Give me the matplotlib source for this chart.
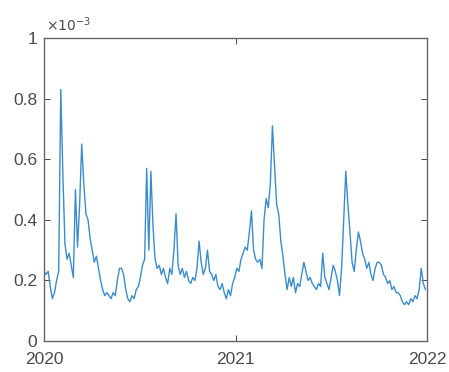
import matplotlib
matplotlib.use("Agg")
import matplotlib.pyplot as plt
import pandas as pd

# sampled every 4 days, values in units of 1e-3
start_date = "2020-01-01"
step = "4D"
values_e3 = [
    0.23, 0.22, 0.23, 0.18, 0.14, 0.16, 0.20, 0.23, 0.83, 0.55,
    0.32, 0.27, 0.29, 0.25, 0.21, 0.50, 0.31, 0.45, 0.65, 0.52,
    0.42, 0.40, 0.34, 0.30, 0.26, 0.28, 0.24, 0.20, 0.17, 0.15,
    0.16, 0.15, 0.14, 0.16, 0.15, 0.20, 0.24, 0.24, 0.22, 0.17,
    0.14, 0.13, 0.15, 0.14, 0.17, 0.18, 0.21, 0.25, 0.27, 0.57,
    0.30, 0.56, 0.38, 0.27, 0.24, 0.25, 0.22, 0.24, 0.21, 0.19,
    0.24, 0.22, 0.30, 0.42, 0.25, 0.22, 0.24, 0.21, 0.23, 0.20,
    0.19, 0.21, 0.20, 0.24, 0.33, 0.26, 0.22, 0.24, 0.30, 0.23,
    0.22, 0.20, 0.22, 0.18, 0.17, 0.19, 0.16, 0.14, 0.17, 0.15,
    0.19, 0.21, 0.24, 0.23, 0.27, 0.29, 0.31, 0.30, 0.36, 0.43,
    0.30, 0.27, 0.26, 0.27, 0.24, 0.40, 0.47, 0.44, 0.52, 0.71,
    0.58, 0.45, 0.42, 0.33, 0.28, 0.22, 0.17, 0.21, 0.18, 0.21,
    0.16, 0.19, 0.18, 0.22, 0.26, 0.23, 0.20, 0.21, 0.19, 0.18,
    0.17, 0.19, 0.18, 0.29, 0.21, 0.19, 0.17, 0.21, 0.25, 0.23,
    0.20, 0.15, 0.24, 0.40, 0.56, 0.45, 0.36, 0.26, 0.23, 0.30,
    0.36, 0.33, 0.29, 0.27, 0.24, 0.26, 0.22, 0.20, 0.24, 0.26,
    0.26, 0.25, 0.22, 0.21, 0.19, 0.20, 0.17, 0.18, 0.16, 0.16,
    0.15, 0.13, 0.12, 0.13, 0.12, 0.14, 0.13, 0.15, 0.14, 0.17,
    0.24, 0.19, 0.17,
]
y_ticks = [0, 0.2, 0.4, 0.6, 0.8, 1]
y_tick_labels = ["0", "0.2", "0.4", "0.6", "0.8", "1"]
x_tick_years = ["2020", "2021", "2022"]

dates = pd.date_range(start_date, periods=len(values_e3), freq=step)

plt.rcParams["font.family"] = ["Liberation Sans", "DejaVu Sans"]
grey = "#4a4a4a"

fig = plt.figure(figsize=(4.49, 3.72), dpi=100)
ax = fig.add_axes([0.098, 0.083, 0.853, 0.815])
ax.plot(dates, values_e3, color="#3a8ccc", linewidth=1.0)

ax.set_xlim(pd.Timestamp("2020-01-01"), pd.Timestamp("2022-01-01"))
ax.set_ylim(0, 1)
ax.set_yticks(y_ticks)
ax.set_yticklabels(y_tick_labels)
ax.set_xticks([pd.Timestamp(y + "-01-01") for y in x_tick_years])
ax.set_xticklabels(x_tick_years)

ax.tick_params(direction="in", length=4, width=0.7, colors=grey,
               labelsize=12.5, top=True, right=True)
ax.tick_params(axis="x", pad=8)
ax.tick_params(axis="y", pad=5)
for spine in ax.spines.values():
    spine.set_color("#666666")
    spine.set_linewidth(1.0)

ax.text(0.005, 1.012, r"$\times10^{-3}$", transform=ax.transAxes,
        ha="left", va="bottom", fontsize=10, color=grey)

fig.savefig("out.png", dpi=100)
